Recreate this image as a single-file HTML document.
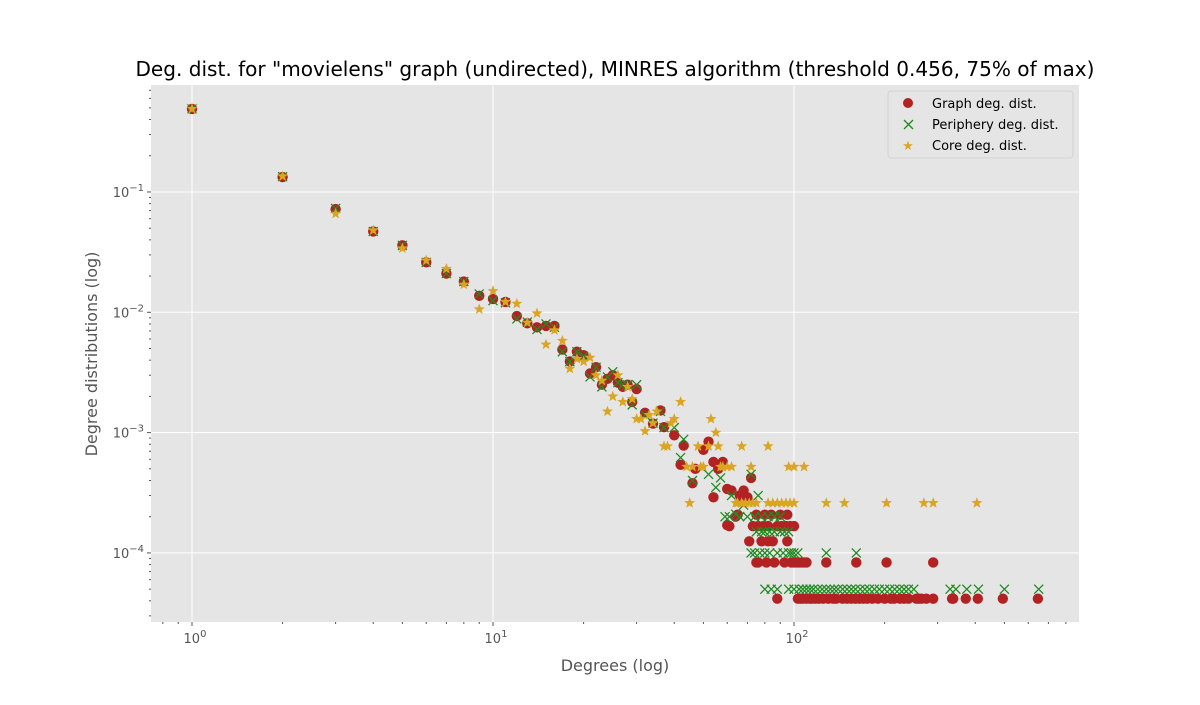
<!DOCTYPE html>
<html><head><meta charset="utf-8"><style>
body{margin:0;background:#fff;font-family:"Liberation Sans","DejaVu Sans",sans-serif}
svg text{font-family:"DejaVu Sans","Liberation Sans",sans-serif}
</style></head><body>
<svg id="chart" width="1200" height="700" xmlns="http://www.w3.org/2000/svg">
<text x="615" y="76" text-anchor="middle" font-size="20" textLength="959" lengthAdjust="spacingAndGlyphs" fill="#000">Deg. dist. for "movielens" graph (undirected), MINRES algorithm (threshold 0.456, 75% of max)</text>
<rect x="151" y="85" width="928" height="537" fill="#e5e5e5"/>
<g id="grid"></g>
<g id="ticks"></g>
<g id="marks"></g>
<text x="615" y="671" text-anchor="middle" font-size="16" fill="#555">Degrees (log)</text>
<text transform="translate(97,354) rotate(-90)" text-anchor="middle" font-size="16" fill="#555">Degree distributions (log)</text>
<g>
<rect x="888" y="91" width="185" height="67" rx="3" fill="#e5e5e5" stroke="#ccc" stroke-width="0.8"/>
<g><circle cx="908" cy="103" r="5" fill="#b22222"/><text x="932" y="108" font-size="13" fill="#000">Graph deg. dist.</text></g>
<g><path d="M904,120 l9,9 M913,120 l-9,9" stroke="#228b22" stroke-width="1.4"/><text x="932" y="129" font-size="13" fill="#000">Periphery deg. dist.</text></g>
<g><text x="908" y="150" font-size="13" fill="#daa520" text-anchor="middle">★</text><text x="932" y="150" font-size="13" fill="#000">Core deg. dist.</text></g>
</g>
</svg>
<script>
const graphDeg=[1,2,3,4,5,6,7,8,9,10,11,12,13,14,15,16,17,18,19,20,21,22,23,24,25,26,27,28,29,30,32,34,36,37,40,43,42,46,47,50,52,54,54,56,58,60,60,62,64,66,68,70,72,
61,65,71,73,75,76,78,79,80,82,82,84,85,88,90,91,94,95,95,97,100,
75,76,81,86,93,98,100,102,104,106,108,110,128,161,203,290,
88,103,105,107,110,113,115,118,121,125,130,135,138,145,150,155,160,165,170,175,182,190,200,210,215,225,232,240,255,260,265,275,290,335,338,372,408,494,646];
const graphProb=[0.49,0.133,0.072,0.047,0.036,0.026,0.021,0.018,0.0137,0.0129,0.0122,0.0093,0.0081,0.0075,0.0077,0.0077,0.0049,0.0039,0.0047,0.0044,0.0031,0.0035,0.0025,0.0028,0.003,0.0026,0.0024,0.0025,0.0018,0.0023,0.00146,0.00119,0.00153,0.00111,0.00095,0.00078,0.00054,0.00038,0.0005,0.00072,0.00084,0.00057,0.00029,0.0005,0.00057,0.00034,0.00017,0.00033,0.0002,0.0003,0.00033,0.00029,0.00042,
0.000167,0.000208,0.000125,0.000167,0.000208,0.000167,0.000125,0.000167,0.000208,0.000167,0.000125,0.000208,0.000125,0.000167,0.000208,0.000167,0.000167,0.000125,0.000208,0.000167,0.000167,
0.0000833,0.0000833,0.0000833,0.0000833,0.0000833,0.0000833,0.0000833,0.0000833,0.0000833,0.0000833,0.0000833,0.0000833,0.0000833,0.0000833,0.0000833,0.0000833,
0.0000417,0.0000417,0.0000417,0.0000417,0.0000417,0.0000417,0.0000417,0.0000417,0.0000417,0.0000417,0.0000417,0.0000417,0.0000417,0.0000417,0.0000417,0.0000417,0.0000417,0.0000417,0.0000417,0.0000417,0.0000417,0.0000417,0.0000417,0.0000417,0.0000417,0.0000417,0.0000417,0.0000417,0.0000417,0.0000417,0.0000417,0.0000417,0.0000417,0.0000417,0.0000417,0.0000417,0.0000417,0.0000417,0.0000417];
const periDeg=[1,2,3,4,5,6,7,8,9,10,11,12,13,14,15,16,17,18,19,20,21,22,23,24,25,26,27,28,29,30,32,34,36,37,40,43,42,46,52,55,57,59,62,64,68,72,76,
61,66,70,74,78,82,86,90,75,78,80,83,86,90,93,96,
72,74,77,80,83,88,92,96,98,100,103,128,161,
80,84,88,96,100,104,107,110,113,116,120,124,128,132,136,140,145,150,155,160,166,172,178,185,192,200,208,216,224,232,240,250,330,345,375,410,500,650];
const periProb=[0.49,0.134,0.073,0.047,0.036,0.026,0.021,0.018,0.0142,0.0125,0.012,0.0088,0.0083,0.0072,0.008,0.0075,0.0047,0.0039,0.0047,0.0043,0.0029,0.0035,0.0024,0.0029,0.0032,0.0026,0.0025,0.0025,0.0017,0.0025,0.0014,0.0012,0.0015,0.0011,0.0011,0.00088,0.00062,0.0004,0.00045,0.00035,0.00042,0.0002,0.0003,0.00021,0.00025,0.00045,0.0003,
0.0002,0.0002,0.0002,0.0002,0.0002,0.0002,0.0002,0.0002,0.00015,0.00015,0.00015,0.00015,0.00015,0.00015,0.00015,0.00015,
0.0001,0.0001,0.0001,0.0001,0.0001,0.0001,0.0001,0.0001,0.0001,0.0001,0.0001,0.0001,0.0001,
0.00005,0.00005,0.00005,0.00005,0.00005,0.00005,0.00005,0.00005,0.00005,0.00005,0.00005,0.00005,0.00005,0.00005,0.00005,0.00005,0.00005,0.00005,0.00005,0.00005,0.00005,0.00005,0.00005,0.00005,0.00005,0.00005,0.00005,0.00005,0.00005,0.00005,0.00005,0.00005,0.00005,0.00005,0.00005,0.00005,0.00005,0.00005];
const coreDeg=[1,2,3,4,5,6,7,8,9,10,11,12,13,14,15,16,17,18,19,20,21,22,23,24,25,26,27,28,29,30,31,32,33,34,35,37,38,39,40,42,44,45,46,48,49,50,52,53,55,56,57,58,60,62,64,67,72,82,96,100,108,
65,67,69,71,73,75,82,85,88,91,94,97,100,128,147,203,270,290,405];
const coreProb=[0.49,0.135,0.066,0.048,0.034,0.027,0.023,0.017,0.0106,0.015,0.0122,0.0118,0.0082,0.0098,0.0054,0.0071,0.0058,0.0034,0.0041,0.0039,0.0042,0.003,0.0027,0.0015,0.002,0.003,0.0018,0.0024,0.0019,0.0013,0.0013,0.00103,0.0014,0.0012,0.0015,0.00077,0.00077,0.0012,0.0013,0.0018,0.00052,0.00026,0.00052,0.00077,0.00052,0.00052,0.00077,0.0013,0.001,0.00077,0.00052,0.00052,0.00052,0.00052,0.00026,0.00077,0.00052,0.00077,0.00052,0.00052,0.00052,
0.00026,0.00026,0.00026,0.00026,0.00026,0.00026,0.00026,0.00026,0.00026,0.00026,0.00026,0.00026,0.00026,0.00026,0.00026,0.00026,0.00026,0.00026,0.00026];
const xTickExps=[0,1,2];
const yTickExps=[-1,-2,-3,-4];
const NS="http://www.w3.org/2000/svg";
const X0=151,X1=1079,Y0=85,Y1=622;
const xLogMin=-0.1362,xLogMax=2.9468,yLogMax=-0.111,yLogMin=-4.574;
function xs(v){return X0+(Math.log10(v)-xLogMin)/(xLogMax-xLogMin)*(X1-X0);}
function ys(v){return Y0+(yLogMax-Math.log10(v))/(yLogMax-yLogMin)*(Y1-Y0);}
function mk(tag,attrs,parent){const e=document.createElementNS(NS,tag);for(const k in attrs)e.setAttribute(k,attrs[k]);parent.appendChild(e);return e;}
const grid=document.getElementById('grid'),ticks=document.getElementById('ticks'),marks=document.getElementById('marks');
function sup(parent,x,y,anchor,exp){
  const t=mk('text',{x:x,y:y,'text-anchor':anchor,'font-size':'13',fill:'#555'},parent);
  
  
  t.appendChild(document.createTextNode('10'));
  const s=mk('tspan',{dy:'-6','font-size':'10'},t);s.textContent=String(exp).replace('-','−');
}
xTickExps.forEach(e=>{
  const x=xs(Math.pow(10,e));
  const l=mk('line',{x1:x,x2:x,y1:Y0,y2:Y1,stroke:'#fff','stroke-width':1},grid);
  
  
  mk('line',{x1:x,x2:x,y1:Y1,y2:Y1+4,stroke:'#555'},ticks);
  sup(ticks,x+3,Y1+21,'middle',e);
});
for(let e=-1;e<=2;e++)for(let m=2;m<=9;m++){const v=m*Math.pow(10,e);const x=xs(v);if(x<X0||x>X1)continue;mk('line',{x1:x,x2:x,y1:Y1,y2:Y1+2,stroke:'#555'},ticks);}
yTickExps.forEach(e=>{
  const y=ys(Math.pow(10,e));
  const l=mk('line',{x1:X0,x2:X1,y1:y,y2:y,stroke:'#fff','stroke-width':1},grid);
  
  
  mk('line',{x1:X0-4,x2:X0,y1:y,y2:y,stroke:'#555'},ticks);
  sup(ticks,X0-7,y+5,'end',e);
});
for(let e=-5;e<=-1;e++)for(let m=2;m<=9;m++){const v=m*Math.pow(10,e);const y=ys(v);if(y<Y0||y>Y1)continue;mk('line',{x1:X0-2,x2:X0,y1:y,y2:y,stroke:'#555'},ticks);}
graphDeg.forEach((d,i)=>{
  const c=mk('circle',{cx:xs(d),cy:ys(graphProb[i]),r:5.2,fill:'#b22222'},marks);
  
  
});
periDeg.forEach((d,i)=>{
  const x=xs(d),y=ys(periProb[i]);
  const p=mk('path',{d:`M${x-4.5},${y-4.5}L${x+4.5},${y+4.5}M${x+4.5},${y-4.5}L${x-4.5},${y+4.5}`,stroke:'#228b22','stroke-width':1.3,fill:'none'},marks);
  
  
});
function starPath(x,y,R){let s='';for(let k=0;k<10;k++){const r=k%2?R*0.42:R;const a=-Math.PI/2+k*Math.PI/5;s+=(k?'L':'M')+(x+r*Math.cos(a)).toFixed(2)+','+(y+r*Math.sin(a)).toFixed(2);}return s+'Z';}
coreDeg.forEach((d,i)=>{
  const p=mk('path',{d:starPath(xs(d),ys(coreProb[i]),5.8),fill:'#daa520'},marks);
  
  
});
</script>
</body></html>
